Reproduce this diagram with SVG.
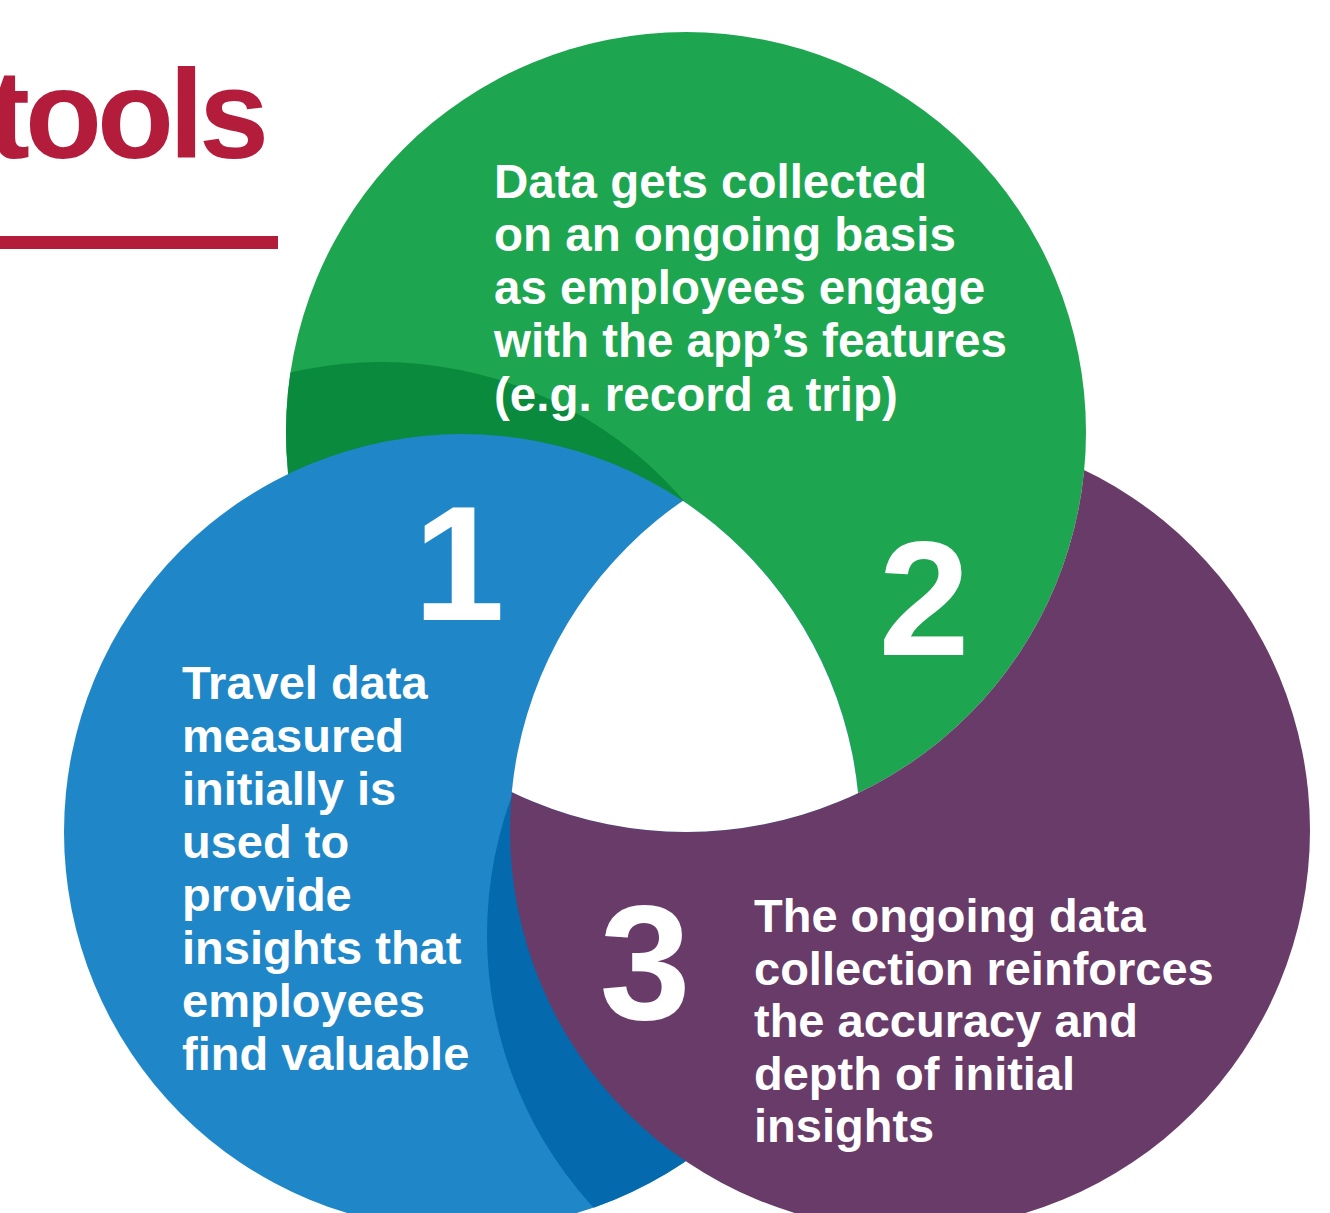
<svg xmlns="http://www.w3.org/2000/svg" width="1330" height="1213" viewBox="0 0 1330 1213">
<defs>
<style>
.t{font-family:"Liberation Sans",Arial,Helvetica,sans-serif;font-weight:700;fill:#fff;font-size:47px}
.tg{font-size:47.5px}
.num{font-family:"Liberation Sans",Arial,Helvetica,sans-serif;font-weight:700;fill:#fff;font-size:164px;text-anchor:middle}
.title{font-family:"Liberation Sans",Arial,Helvetica,sans-serif;font-weight:700;fill:#b41c3b;font-size:126px;letter-spacing:-5px}
</style>
<clipPath id="cg"><circle cx="686" cy="432" r="400"/></clipPath>
<clipPath id="cb"><circle cx="462" cy="832" r="398"/></clipPath>
<clipPath id="cp"><circle cx="910" cy="830" r="400"/></clipPath>
<clipPath id="cng"><path clip-rule="evenodd" d="M-10,-10H1340V1223H-10Z M286,432a400,400 0 1,0 800,0a400,400 0 1,0 -800,0Z"/></clipPath>
</defs>
<rect width="1330" height="1213" fill="#fff"/>
<g id="title">
<text class="title" x="-12" y="158">tools</text>
<rect x="0" y="236" width="278" height="13" fill="#b41c3b"/>
</g>
<g id="shapes">
<circle id="circle-2" cx="686" cy="432" r="400" fill="#1da64f"/>
<circle id="shadow-2" cx="381" cy="762" r="400" fill="#0a8a3c" clip-path="url(#cg)"/>
<circle id="circle-1" cx="462" cy="832" r="398" fill="#1f87c8"/>
<circle id="shadow-1" cx="889" cy="935" r="402" fill="#0469ad" clip-path="url(#cb)"/>
<circle id="circle-3" cx="910" cy="830" r="400" fill="#683b69" clip-path="url(#cng)"/>
<g clip-path="url(#cb)"><circle id="center" cx="686" cy="432" r="400" fill="#fff" clip-path="url(#cp)"/></g>
</g>
<g id="node-2">
<text class="num" x="924" y="655">2</text>
<text class="t tg" x="494" y="198">Data gets collected</text>
<text class="t tg" x="494" y="251">on an ongoing basis</text>
<text class="t tg" x="494" y="304">as employees engage</text>
<text class="t tg" x="494" y="357">with the app’s features</text>
<text class="t tg" x="494" y="411">(e.g. record a trip)</text>
</g>
<g id="node-1">
<text class="num" x="459" y="620">1</text>
<text class="t" x="182" y="699">Travel data</text>
<text class="t" x="182" y="752">measured</text>
<text class="t" x="182" y="805">initially is</text>
<text class="t" x="182" y="858">used to</text>
<text class="t" x="182" y="911">provide</text>
<text class="t" x="182" y="964">insights that</text>
<text class="t" x="182" y="1017">employees</text>
<text class="t" x="182" y="1070">find valuable</text>
</g>
<g id="node-3">
<text class="num" x="645" y="1019">3</text>
<text class="t" x="754" y="932">The ongoing data</text>
<text class="t" x="754" y="984.5">collection reinforces</text>
<text class="t" x="754" y="1037">the accuracy and</text>
<text class="t" x="754" y="1089.5">depth of initial</text>
<text class="t" x="754" y="1142">insights</text>
</g>
</svg>
